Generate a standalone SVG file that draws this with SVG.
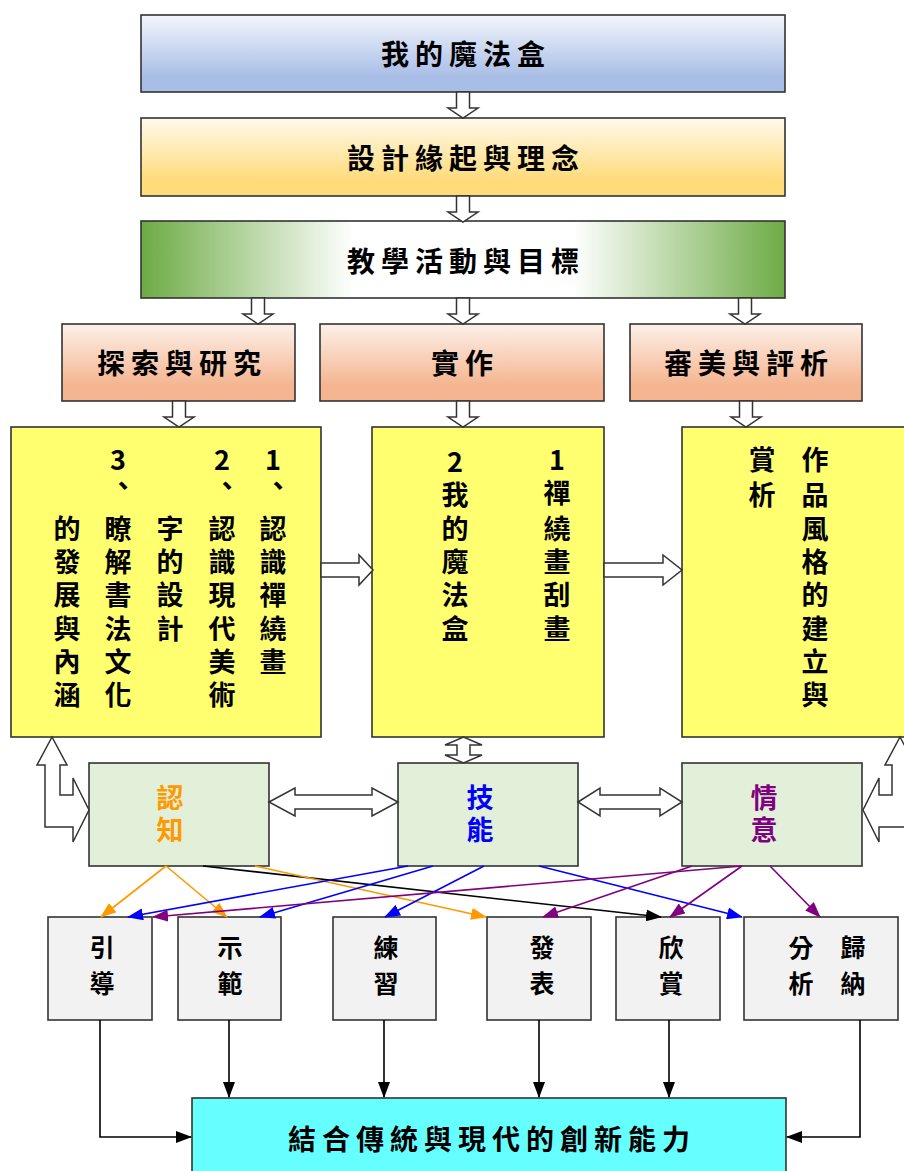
<svg xmlns="http://www.w3.org/2000/svg" width="904" height="1171" viewBox="0 0 904 1171">
<defs>
<style>
.bx{stroke:#333;stroke-width:1.6}
.t{font-family:"Noto Sans CJK TC","Noto Sans CJK SC",sans-serif;font-weight:700;fill:#000;text-anchor:middle;dominant-baseline:central}
.h{font-size:28px;letter-spacing:6px}
.v{font-size:27px}
.b{font-size:25px}
.ho{fill:#fff;stroke:#333;stroke-width:1.5}
.ln{fill:none;stroke-width:1.6}
</style>
<linearGradient id="gBlue" x1="0" y1="0" x2="0" y2="1"><stop offset="0" stop-color="#f3f6fc"/><stop offset="0.8" stop-color="#a9bee6"/><stop offset="1" stop-color="#a9bee6"/></linearGradient>
<linearGradient id="gYel" x1="0" y1="0" x2="0" y2="1"><stop offset="0" stop-color="#fffaec"/><stop offset="0.8" stop-color="#ffdb7a"/><stop offset="1" stop-color="#ffdb7a"/></linearGradient>
<linearGradient id="gGrn" x1="0" y1="0" x2="1" y2="0"><stop offset="0" stop-color="#6dab45"/><stop offset="0.33" stop-color="#ffffff"/><stop offset="0.67" stop-color="#ffffff"/><stop offset="1" stop-color="#6dab45"/></linearGradient>
<linearGradient id="gSal" x1="0" y1="0" x2="0" y2="1"><stop offset="0" stop-color="#fdf0e9"/><stop offset="0.8" stop-color="#f4b590"/><stop offset="1" stop-color="#f4b590"/></linearGradient>
<marker id="mK" markerUnits="userSpaceOnUse" markerWidth="16" markerHeight="12" refX="15" refY="6" orient="auto"><path d="M0,0 L16,6 L0,12 z" fill="#000"/></marker>
<marker id="mO" markerUnits="userSpaceOnUse" markerWidth="16" markerHeight="12" refX="15" refY="6" orient="auto"><path d="M0,0 L16,6 L0,12 z" fill="#ff9900"/></marker>
<marker id="mB" markerUnits="userSpaceOnUse" markerWidth="16" markerHeight="12" refX="15" refY="6" orient="auto"><path d="M0,0 L16,6 L0,12 z" fill="#0000ff"/></marker>
<marker id="mP" markerUnits="userSpaceOnUse" markerWidth="16" markerHeight="12" refX="15" refY="6" orient="auto"><path d="M0,0 L16,6 L0,12 z" fill="#800080"/></marker>
<path id="dn" d="M-6.5,0 L6.5,0 L6.5,16 L15,16 L0,26 L-15,16 L-6.5,16 z"/>
</defs>

<g id="n-box1"><rect class="bx" x="141" y="15" width="644" height="77" fill="url(#gBlue)"/><text class="t h" x="466" y="53">我的魔法盒</text></g>
<g id="n-box2"><rect class="bx" x="141" y="118" width="644" height="78" fill="url(#gYel)"/><text class="t h" x="466" y="157">設計緣起與理念</text></g>
<g id="n-box3"><rect class="bx" x="141" y="221" width="644" height="77" fill="url(#gGrn)"/><text class="t h" x="466" y="260">教學活動與目標</text></g>

<g id="n-explore"><rect class="bx" x="62" y="324" width="233" height="77" fill="url(#gSal)"/><text class="t h" x="182" y="362">探索與研究</text></g>
<g id="n-practice"><rect class="bx" x="320" y="324" width="284" height="77" fill="url(#gSal)"/><text class="t h" x="465" y="362">實作</text></g>
<g id="n-aesthetic"><rect class="bx" x="630" y="324" width="232" height="77" fill="url(#gSal)"/><text class="t h" x="749" y="362">審美與評析</text></g>

<g id="n-yl"><rect class="bx" x="11" y="427" width="310" height="310" fill="#ffff70"/>
<text class="t v"><tspan x="273" y="458">1</tspan><tspan x="278" y="484">、</tspan><tspan x="273" y="527">認</tspan><tspan x="273" y="560">識</tspan><tspan x="273" y="593">禪</tspan><tspan x="273" y="627">繞</tspan><tspan x="273" y="660">畫</tspan></text>
<text class="t v"><tspan x="222" y="458">2</tspan><tspan x="227" y="484">、</tspan><tspan x="222" y="527">認</tspan><tspan x="222" y="560">識</tspan><tspan x="222" y="593">現</tspan><tspan x="222" y="627">代</tspan><tspan x="222" y="660">美</tspan><tspan x="222" y="693">術</tspan></text>
<text class="t v"><tspan x="170" y="527">字</tspan><tspan x="170" y="560">的</tspan><tspan x="170" y="593">設</tspan><tspan x="170" y="627">計</tspan></text>
<text class="t v"><tspan x="118" y="458">3</tspan><tspan x="123" y="484">、</tspan><tspan x="118" y="527">瞭</tspan><tspan x="118" y="560">解</tspan><tspan x="118" y="593">書</tspan><tspan x="118" y="627">法</tspan><tspan x="118" y="660">文</tspan><tspan x="118" y="693">化</tspan></text>
<text class="t v"><tspan x="67" y="527">的</tspan><tspan x="67" y="560">發</tspan><tspan x="67" y="593">展</tspan><tspan x="67" y="627">與</tspan><tspan x="67" y="660">內</tspan><tspan x="67" y="693">涵</tspan></text>
</g>
<g id="n-ym"><rect class="bx" x="372" y="427" width="232" height="310" fill="#ffff70"/>
<text class="t v"><tspan x="557" y="458">1</tspan><tspan x="557" y="491">禪</tspan><tspan x="557" y="527">繞</tspan><tspan x="557" y="560">畫</tspan><tspan x="557" y="593">刮</tspan><tspan x="557" y="627">畫</tspan></text>
<text class="t v"><tspan x="455" y="460">2</tspan><tspan x="455" y="493">我</tspan><tspan x="455" y="527">的</tspan><tspan x="455" y="560">魔</tspan><tspan x="455" y="593">法</tspan><tspan x="455" y="627">盒</tspan></text>
</g>
<g id="n-yr"><rect class="bx" x="682" y="427" width="240" height="310" fill="#ffff70"/>
<text class="t v"><tspan x="815" y="458">作</tspan><tspan x="815" y="493">品</tspan><tspan x="815" y="527">風</tspan><tspan x="815" y="560">格</tspan><tspan x="815" y="593">的</tspan><tspan x="815" y="627">建</tspan><tspan x="815" y="660">立</tspan><tspan x="815" y="693">與</tspan></text>
<text class="t v"><tspan x="762" y="458">賞</tspan><tspan x="762" y="493">析</tspan></text>
</g>

<g id="n-cog"><rect class="bx" x="89" y="763" width="180" height="103" fill="#e2efd9"/><text class="t v" style="fill:#ff9900"><tspan x="170" y="796">認</tspan><tspan x="170" y="828">知</tspan></text></g>
<g id="n-skill"><rect class="bx" x="398" y="763" width="180" height="103" fill="#e2efd9"/><text class="t v" style="fill:#0000ff"><tspan x="480" y="796">技</tspan><tspan x="480" y="828">能</tspan></text></g>
<g id="n-aff"><rect class="bx" x="682" y="763" width="180" height="103" fill="#e2efd9"/><text class="t v" style="fill:#800080"><tspan x="764" y="796">情</tspan><tspan x="764" y="828">意</tspan></text></g>

<g id="n-guide"><rect class="bx" x="48" y="917" width="104" height="103" fill="#f2f2f2"/><text class="t b"><tspan x="102" y="946">引</tspan><tspan x="102" y="982">導</tspan></text></g>
<g id="n-demo"><rect class="bx" x="178" y="917" width="103" height="103" fill="#f2f2f2"/><text class="t b"><tspan x="230" y="946">示</tspan><tspan x="230" y="982">範</tspan></text></g>
<g id="n-exer"><rect class="bx" x="333" y="917" width="103" height="103" fill="#f2f2f2"/><text class="t b"><tspan x="386" y="946">練</tspan><tspan x="386" y="982">習</tspan></text></g>
<g id="n-pres"><rect class="bx" x="487" y="917" width="104" height="103" fill="#f2f2f2"/><text class="t b"><tspan x="542" y="946">發</tspan><tspan x="542" y="982">表</tspan></text></g>
<g id="n-appr"><rect class="bx" x="616" y="917" width="104" height="103" fill="#f2f2f2"/><text class="t b"><tspan x="671" y="946">欣</tspan><tspan x="671" y="982">賞</tspan></text></g>
<g id="n-anal"><rect class="bx" x="744" y="917" width="154" height="103" fill="#f2f2f2"/><text class="t b"><tspan x="853" y="946">歸</tspan><tspan x="853" y="982">納</tspan></text><text class="t b"><tspan x="801" y="946">分</tspan><tspan x="801" y="982">析</tspan></text></g>

<g id="n-final"><rect class="bx" x="192" y="1098" width="594" height="100" fill="#66ffff"/><text class="t h" x="492" y="1138">結合傳統與現代的創新能力</text></g>

<g id="connectors">
<use href="#dn" class="ho" x="463" y="92"/>
<use href="#dn" class="ho" x="463" y="196"/>
<use href="#dn" class="ho" x="258" y="298"/>
<use href="#dn" class="ho" x="463" y="298"/>
<use href="#dn" class="ho" x="745" y="298"/>
<use href="#dn" class="ho" x="179" y="401"/>
<use href="#dn" class="ho" x="463" y="401"/>
<use href="#dn" class="ho" x="746" y="401"/>
<path class="ho" d="M321,563 L359,563 L359,555 L373,570 L359,585 L359,577 L321,577 z"/>
<path class="ho" d="M604,563 L663,563 L663,555 L682,570 L663,585 L663,577 L604,577 z"/>
<path class="ho" d="M457,745 L445,745 L463.5,737 L482,745 L470,745 L470,755 L482,755 L463.5,763 L445,755 L457,755 z"/>
<path class="ho" d="M269,802 L295,788 L295,795 L372,795 L372,788 L398,802 L372,816 L372,809 L295,809 L295,816 z"/>
<path class="ho" d="M578,802 L600,788 L600,795 L660,795 L660,788 L682,802 L660,816 L660,809 L600,809 L600,816 z"/>
<path class="ho" d="M52,737 L67,765 L60,765 L60,795 L73,795 L73,778 L89,810 L73,842 L73,827 L45,827 L45,765 L37,765 z"/>
<path class="ho" d="M900,737 L915,765 L907,765 L907,827 L879,827 L879,842 L863,810 L879,778 L879,795 L892,795 L892,765 L885,765 z"/>

<path class="ln" stroke="#ff9900" marker-end="url(#mO)" d="M166,866 L101,917"/>
<path class="ln" stroke="#ff9900" marker-end="url(#mO)" d="M166,866 L227,917"/>
<path class="ln" stroke="#000" marker-end="url(#mK)" d="M203,866 L661,917"/>
<path class="ln" stroke="#ff9900" marker-end="url(#mO)" d="M255,866 L486,917"/>
<path class="ln" stroke="#0000ff" marker-end="url(#mB)" d="M408,866 L128,917"/>
<path class="ln" stroke="#0000ff" marker-end="url(#mB)" d="M433,866 L260,917"/>
<path class="ln" stroke="#0000ff" marker-end="url(#mB)" d="M484,866 L385,917"/>
<path class="ln" stroke="#0000ff" marker-end="url(#mB)" d="M539,866 L742,917"/>
<path class="ln" stroke="#800080" marker-end="url(#mP)" d="M742,866 L153,917"/>
<path class="ln" stroke="#800080" marker-end="url(#mP)" d="M692,866 L543,917"/>
<path class="ln" stroke="#800080" marker-end="url(#mP)" d="M742,866 L670,917"/>
<path class="ln" stroke="#800080" marker-end="url(#mP)" d="M770,866 L820,917"/>

<path class="ln" stroke="#000" stroke-width="1.3" marker-end="url(#mK)" d="M100,1020 L100,1137 L191,1137"/>
<path class="ln" stroke="#000" stroke-width="1.3" marker-end="url(#mK)" d="M229,1020 L229,1097"/>
<path class="ln" stroke="#000" stroke-width="1.3" marker-end="url(#mK)" d="M384,1020 L384,1097"/>
<path class="ln" stroke="#000" stroke-width="1.3" marker-end="url(#mK)" d="M539,1020 L539,1097"/>
<path class="ln" stroke="#000" stroke-width="1.3" marker-end="url(#mK)" d="M669,1020 L669,1097"/>
<path class="ln" stroke="#000" stroke-width="1.3" marker-end="url(#mK)" d="M860,1020 L860,1137 L787,1137"/>
</g>
</svg>
